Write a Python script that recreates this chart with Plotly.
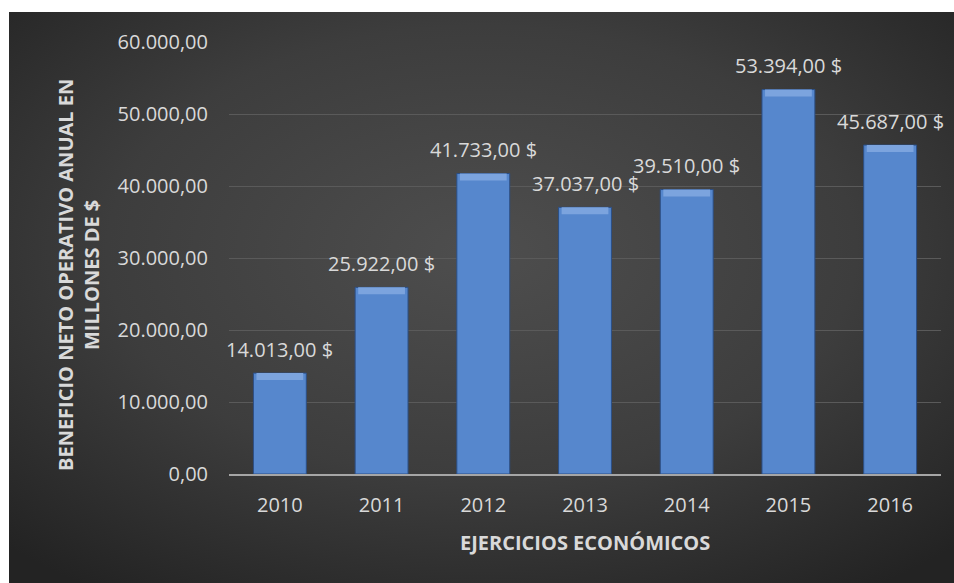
import base64
import plotly.graph_objects as go

# Beneficio neto operativo anual (millones de $)
years = ["2010", "2011", "2012", "2013", "2014", "2015", "2016"]
beneficio = [14013.00, 25922.00, 41733.00, 37037.00, 39510.00, 53394.00, 45687.00]
y_ticks = [0, 10000, 20000, 30000, 40000, 50000, 60000]

W, H = 954, 583
M_L, M_R, M_T, M_B = 229, 13, 42, 109
PW, PH = W - M_L - M_R, H - M_T - M_B
Y_MAX = 60000


def px_x(px):
    return (px - M_L) / PW


def px_y(py):
    return (H - M_B - py) / PH


def fmt_es(v):
    s = f"{v:,.2f}"
    return s.replace(",", "X").replace(".", ",").replace("X", ".") + " $"


FONT = "Open Sans"
TXT = "#d9d9d9"

# dark radial-gradient panel behind the chart
svg = (
    '<svg xmlns="http://www.w3.org/2000/svg" width="945" height="571" '
    'preserveAspectRatio="none" viewBox="0 0 945 571">'
    '<defs><radialGradient id="g" cx="50%" cy="42%" r="72%">'
    '<stop offset="0" stop-color="#4e4e4e"/>'
    '<stop offset="0.55" stop-color="#3d3d3d"/>'
    '<stop offset="1" stop-color="#232323"/>'
    '</radialGradient></defs>'
    '<rect width="945" height="571" fill="url(#g)"/></svg>'
)
bg_src = "data:image/svg+xml;base64," + base64.b64encode(svg.encode()).decode()

# bevel cap height: about 7 px expressed in axis units
cap = 7 * Y_MAX / PH

fig = go.Figure()
fig.add_trace(go.Bar(
    x=years,
    y=beneficio,
    marker=dict(color="#5687cd", line=dict(color="#2c4f86", width=1)),
    hoverinfo="skip",
))
fig.add_trace(go.Bar(
    x=years,
    y=[cap] * len(beneficio),
    base=[v - cap for v in beneficio],
    width=0.46,
    marker=dict(color="#7ca4de", line=dict(width=0)),
    hoverinfo="skip",
))

# value labels above each bar (category index on the x axis)
for i, v in enumerate(beneficio):
    fig.add_annotation(
        x=i, y=v, xref="x", yref="y", text=fmt_es(v), showarrow=False,
        xanchor="center", yanchor="middle", yshift=24,
        font=dict(family=FONT, size=20, color=TXT),
    )

fig.add_layout_image(dict(
    source=bg_src, xref="paper", yref="paper",
    x=px_x(9), y=px_y(12),
    sizex=px_x(W) - px_x(9), sizey=px_y(12) - px_y(H),
    xanchor="left", yanchor="top", sizing="stretch", layer="below",
))

fig.add_annotation(
    text="<b>BENEFICIO NETO OPERATIVO ANUAL EN<br>MILLONES DE $</b>",
    xref="paper", yref="paper", x=px_x(78), y=px_y(275),
    xanchor="center", yanchor="middle",
    textangle=-90, showarrow=False,
    font=dict(family=FONT, size=20, color=TXT),
)
fig.add_annotation(
    text="<b>EJERCICIOS ECONÓMICOS</b>",
    xref="paper", yref="paper", x=0.5, y=px_y(542),
    xanchor="center", yanchor="middle",
    showarrow=False,
    font=dict(family=FONT, size=20, color=TXT),
)

fig.update_layout(
    width=W, height=H,
    margin=dict(l=M_L, r=M_R, t=M_T, b=M_B),
    paper_bgcolor="white",
    plot_bgcolor="rgba(0,0,0,0)",
    separators=",.",
    barmode="overlay",
    bargap=0.48,
    showlegend=False,
    font=dict(family=FONT, color=TXT),
    xaxis=dict(
        type="category", range=[-0.5, len(years) - 0.5],
        showgrid=False, showline=True, linecolor="#a6a6a6", linewidth=2,
        ticks="", tickfont=dict(family=FONT, size=20, color=TXT),
        ticklabelstandoff=12,
    ),
    yaxis=dict(
        range=[0, Y_MAX], tickvals=y_ticks, tickformat=",.2f",
        showgrid=True, gridcolor="#5a5a5a", gridwidth=1,
        zeroline=False, showline=False, ticks="",
        tickfont=dict(family=FONT, size=20, color=TXT),
        ticklabelstandoff=20,
    ),
)

fig.write_html("out.html")
